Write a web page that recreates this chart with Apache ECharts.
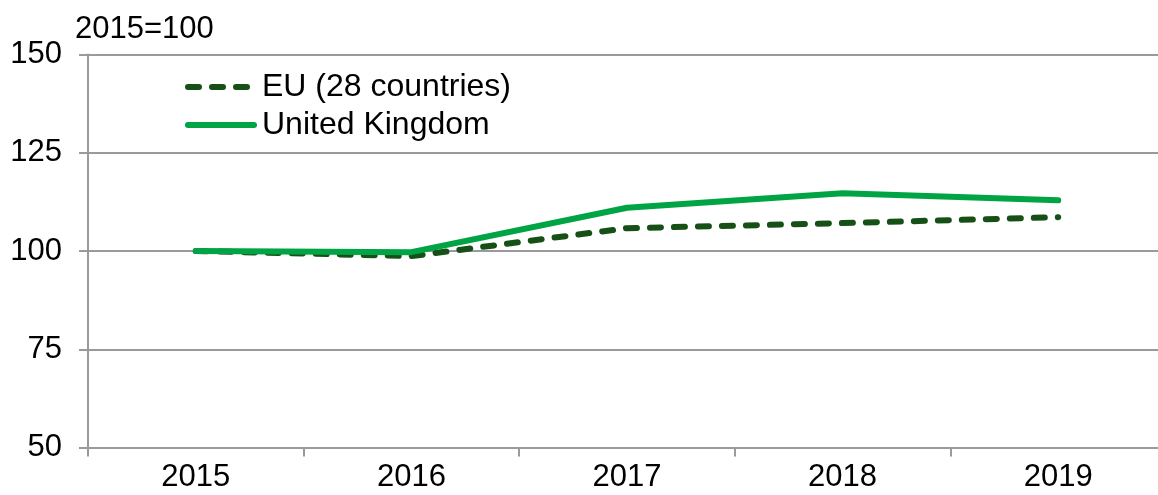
<!DOCTYPE html>
<html>
<head>
<meta charset="utf-8">
<style>
  html, body { margin: 0; padding: 0; background: #ffffff; overflow: hidden; }
  #chart { width: 1170px; height: 495px; }
</style>
<script src="https://cdn.jsdelivr.net/npm/echarts@6/dist/echarts.min.js"></script>
</head>
<body>
<div id="chart"></div>
<script>
// Index, 2015 = 100
const years = ['2015', '2016', '2017', '2018', '2019'];
const euValues = [100, 98.7, 105.8, 107.1, 108.6];
const ukValues = [100, 99.7, 111.0, 114.7, 112.9];
const yTicks = { min: 50, max: 150, step: 25 };
const unitLabel = '2015=100';

const FONT = 'Liberation Sans, Arial, sans-serif';
const GRID_GREY = '#9a9a9a';
const EU_GREEN = '#175016';
const UK_GREEN = '#00a444';

// Legend keys: three rounded dashes (in a 72-wide box), and one rounded bar
const DASH_ICON = 'path://M3,0h11a3,3 0 0 1 0,6h-11a3,3 0 0 1 0,-6Z' +
  'M27,0h11a3,3 0 0 1 0,6h-11a3,3 0 0 1 0,-6Z' +
  'M51,0h11a3,3 0 0 1 0,6h-11a3,3 0 0 1 0,-6Z' +
  'M72,3';
const BAR_ICON = 'path://M3,0h66a3,3 0 0 1 0,6h-66a3,3 0 0 1 0,-6Z';

const chart = echarts.init(document.getElementById('chart'), null, { renderer: 'canvas' });

chart.setOption({
  backgroundColor: '#ffffff',
  animation: false,
  title: {
    text: unitLabel,
    left: 70,
    top: 9,
    textStyle: { fontFamily: FONT, fontSize: 31, fontWeight: 'normal', color: '#000' }
  },
  legend: {
    orient: 'vertical',
    left: 180,
    top: 66,
    itemWidth: 72,
    itemHeight: 6,
    itemGap: 6,
    textStyle: { fontFamily: FONT, fontSize: 32, color: '#000' },
    data: [
      { name: 'EU (28 countries)', icon: DASH_ICON, itemStyle: { color: EU_GREEN } },
      { name: 'United Kingdom', icon: BAR_ICON, itemStyle: { color: UK_GREEN } }
    ]
  },
  grid: { left: 88, top: 54.5, right: 4, height: 393, containLabel: false },
  xAxis: {
    type: 'category',
    data: years,
    boundaryGap: true,
    axisLine: { lineStyle: { color: GRID_GREY, width: 2 } },
    axisTick: { show: true, length: 9, lineStyle: { color: GRID_GREY, width: 2 } },
    axisLabel: { fontFamily: FONT, fontSize: 31, color: '#000', margin: 14 }
  },
  yAxis: {
    type: 'value',
    min: yTicks.min,
    max: yTicks.max,
    interval: yTicks.step,
    axisLine: { show: true, lineStyle: { color: GRID_GREY, width: 2 } },
    axisTick: { show: true, length: 9, lineStyle: { color: GRID_GREY, width: 2 } },
    axisLabel: { fontFamily: FONT, fontSize: 31, color: '#000', margin: 26 },
    splitLine: { show: true, lineStyle: { color: GRID_GREY, width: 2 } }
  },
  series: [
    {
      name: 'EU (28 countries)',
      type: 'line',
      data: euValues,
      symbol: 'none',
      z: 2,
      lineStyle: { color: EU_GREEN, width: 6, type: [11, 13], cap: 'round', join: 'round' },
      itemStyle: { color: EU_GREEN }
    },
    {
      name: 'United Kingdom',
      type: 'line',
      data: ukValues,
      symbol: 'none',
      z: 3,
      lineStyle: { color: UK_GREEN, width: 6, cap: 'round', join: 'round' },
      itemStyle: { color: UK_GREEN }
    }
  ]
});
</script>
</body>
</html>
